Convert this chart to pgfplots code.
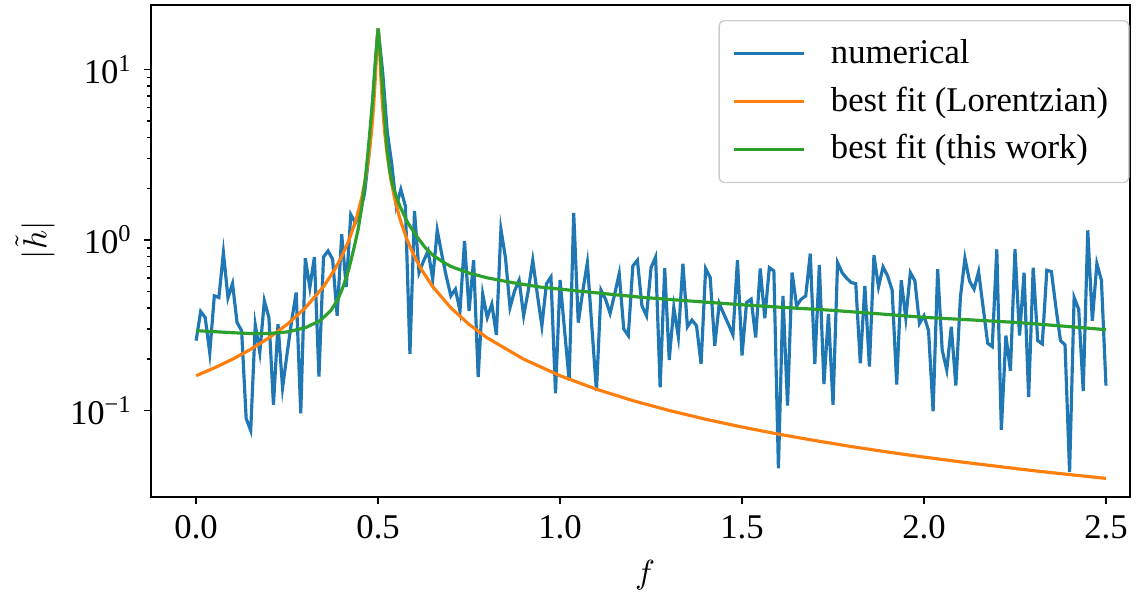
\documentclass[border=0pt]{standalone}
\usepackage{fontspec}
\setmainfont{Liberation Serif}
\usepackage{pgfplots}
\pgfplotsset{compat=1.18}
\definecolor{tabblue}{HTML}{1F77B4}
\definecolor{taborange}{HTML}{FF7F0E}
\definecolor{tabgreen}{HTML}{2CA02C}
\begin{document}
\begin{tikzpicture}[font=\fontsize{10.4}{12.5}\selectfont]
\begin{axis}[
  scale only axis, width=293.7pt, height=147.6pt,
  xmin=-0.124, xmax=2.566,
  ymode=log, ymin=0.0311, ymax=23.9,
  xtick={0,0.5,1,1.5,2,2.5},
  xticklabels={0.0,0.5,1.0,1.5,2.0,2.5},
  ytick={0.1,1,10},
  yticklabels={10\textsuperscript{−1},10\textsuperscript{0},10\textsuperscript{1}},
  tick pos=left, tick align=outside,
  major tick length=2.1pt, minor tick length=1.2pt,
  every tick/.style={black, line width=0.45pt},
  axis line style={line width=0.45pt},
  xlabel={$f$}, ylabel={$|\tilde{h}|$},
  xlabel style={at={(axis description cs:0.5046,-0.1585)}, anchor=center},
  ylabel style={at={(axis description cs:-0.1185,0.522)}, anchor=center},
  clip=true,
  legend cell align=left,
  legend image code/.code={\draw[#1] (0pt,0pt) -- (21pt,0pt); \path (26.4pt,0pt);},
  legend style={draw=black!20, rounded corners=1.5pt, fill=white, fill opacity=0.8, text opacity=1,
    at={(axis description cs:0.9995,0.9695)}, anchor=north east,
    inner xsep=4pt, inner ysep=3.4pt, row sep=1.1pt,
    nodes={inner sep=2.2pt}},
]
\addplot[tabblue, line width=0.95pt] table {
0.0000 0.257
0.0125 0.381
0.0250 0.351
0.0375 0.218
0.0500 0.471
0.0625 0.460
0.0750 0.843
0.0875 0.458
0.1000 0.555
0.1125 0.328
0.1250 0.294
0.1375 0.0898
0.1500 0.0764
0.1625 0.318
0.1750 0.219
0.1875 0.440
0.2000 0.351
0.2125 0.108
0.2250 0.321
0.2375 0.136
0.2500 0.216
0.2625 0.336
0.2750 0.492
0.2875 0.0964
0.3000 0.782
0.3125 0.526
0.3250 0.795
0.3375 0.158
0.3500 0.795
0.3625 0.863
0.3750 0.771
0.3875 0.360
0.4000 1.08
0.4125 0.531
0.4250 1.41
0.4375 1.26
0.4500 1.44
0.4625 1.86
0.4750 3.18
0.4875 7.8
0.5000 17.4
0.5125 9.7
0.5250 4.34
0.5375 2.8
0.5500 1.58
0.5625 1.98
0.5750 1.58
0.5875 0.215
0.6000 1.48
0.6125 0.644
0.6250 0.754
0.6375 0.862
0.6500 0.589
0.6625 1.14
0.6750 0.825
0.6875 0.61
0.7000 0.47
0.7125 0.515
0.7250 0.384
0.7375 0.987
0.7500 0.384
0.7625 0.761
0.7750 0.157
0.7875 0.481
0.8000 0.351
0.8125 0.421
0.8250 0.278
0.8375 1.155
0.8500 0.788
0.8625 0.402
0.8750 0.503
0.8875 0.581
0.9000 0.360
0.9125 0.503
0.9250 0.761
0.9375 0.481
0.9500 0.314
0.9625 0.553
0.9750 0.607
0.9875 0.126
1.0000 0.583
1.0125 0.294
1.0250 0.150
1.0375 1.44
1.0500 0.328
1.0625 0.503
1.0750 0.737
1.0875 0.307
1.1000 0.130
1.1125 0.508
1.1250 0.450
1.1375 0.371
1.1500 0.481
1.1625 0.635
1.1750 0.301
1.1875 0.275
1.2000 0.705
1.2125 0.761
1.2250 0.411
1.2375 0.360
1.2500 0.689
1.2625 0.795
1.2750 0.137
1.2875 0.683
1.3000 0.198
1.3125 0.402
1.3250 0.271
1.3375 0.727
1.3500 0.310
1.3625 0.339
1.3750 0.314
1.3875 0.1875
1.4000 0.680
1.4125 0.602
1.4250 0.240
1.4375 0.424
1.4500 0.368
1.4625 0.321
1.4750 0.278
1.4875 0.761
1.5000 0.21
1.5125 0.430
1.5250 0.450
1.5375 0.268
1.5500 0.680
1.5625 0.348
1.5750 0.689
1.5875 0.659
1.6000 0.0458
1.6125 0.47
1.6250 0.107
1.6375 0.644
1.6500 0.411
1.6625 0.450
1.6750 0.47
1.6875 0.832
1.7000 0.1875
1.7125 0.714
1.7250 0.143
1.7375 0.368
1.7500 0.108
1.7625 0.737
1.7750 0.644
1.7875 0.597
1.8000 0.563
1.8125 0.555
1.8250 0.189
1.8375 0.538
1.8500 0.181
1.8625 0.817
1.8750 0.531
1.8875 0.695
1.9000 0.616
1.9125 0.508
1.9250 0.142
1.9375 0.581
1.9500 0.348
1.9625 0.644
1.9750 0.576
1.9875 0.324
2.0000 0.360
2.0125 0.294
2.0250 0.099
2.0375 0.674
2.0500 0.226
2.0625 0.173
2.0750 0.310
2.0875 0.140
2.1000 0.46
2.1125 0.782
2.1250 0.576
2.1375 0.515
2.1500 0.653
2.1625 0.402
2.1750 0.248
2.1875 0.237
2.2000 0.882
2.2125 0.077
2.2250 0.275
2.2375 0.171
2.2500 0.882
2.2625 0.275
2.2750 0.644
2.2875 0.120
2.3000 0.689
2.3125 0.257
2.3250 0.246
2.3375 0.665
2.3500 0.653
2.3625 0.402
2.3750 0.257
2.3875 0.243
2.4000 0.0436
2.4125 0.46
2.4250 0.393
2.4375 0.130
2.4500 1.14
2.4625 0.336
2.4750 0.727
2.4875 0.581
2.5000 0.140
};
\addlegendentry{numerical}
\addplot[taborange, line width=0.95pt] table {
0.000 0.160
0.050 0.1778
0.100 0.200
0.150 0.2286
0.200 0.2667
0.250 0.320
0.300 0.400
0.350 0.5333
0.380 0.6667
0.400 0.800
0.420 0.998
0.440 1.329
0.455 1.769
0.465 2.266
0.475 3.147
0.482 4.306
0.488 6.224
0.492 8.667
0.495 11.77
0.4975 15.27
0.500 17.39
0.5025 15.27
0.505 11.77
0.508 8.667
0.512 6.224
0.518 4.306
0.525 3.147
0.535 2.266
0.545 1.769
0.560 1.329
0.580 0.998
0.600 0.800
0.620 0.6667
0.650 0.5333
0.700 0.400
0.750 0.320
0.800 0.2667
0.900 0.200
1.000 0.160
1.100 0.1333
1.200 0.1143
1.300 0.100
1.400 0.0889
1.500 0.080
1.600 0.0727
1.700 0.0667
1.800 0.0615
1.900 0.0571
2.000 0.0533
2.100 0.0500
2.200 0.0471
2.300 0.0444
2.400 0.0421
2.500 0.0400
};
\addlegendentry{best fit (Lorentzian)}
\addplot[tabgreen, line width=0.95pt] table {
0.000 0.294
0.050 0.290
0.100 0.286
0.150 0.283
0.200 0.283
0.250 0.289
0.300 0.306
0.340 0.336
0.370 0.385
0.390 0.45
0.405 0.54
0.420 0.68
0.435 0.92
0.445 1.15
0.455 1.55
0.465 2.3
0.473 3.4
0.480 5.0
0.486 7.0
0.492 10.8
0.496 14.0
0.500 17.4
0.504 14.0
0.508 10.8
0.512 8.0
0.516 6.0
0.524 3.5
0.532 2.55
0.540 2.1
0.550 1.8
0.560 1.58
0.580 1.28
0.606 1.05
0.630 0.90
0.652 0.81
0.680 0.74
0.700 0.70
0.750 0.64
0.800 0.60
0.870 0.562
0.950 0.528
1.000 0.515
1.100 0.490
1.220 0.462
1.350 0.440
1.480 0.420
1.600 0.404
1.740 0.388
1.870 0.370
2.000 0.352
2.130 0.340
2.260 0.328
2.380 0.313
2.500 0.298
};
\addlegendentry{best fit (this work)}
\coordinate (bl) at (rel axis cs:0,0);
\coordinate (tr) at (rel axis cs:1,1);
\end{axis}
\pgfresetboundingbox
\path ([shift={(-45.3pt,-29.1pt)}]bl) rectangle ([shift={(5.1pt,1.5pt)}]tr);
\end{tikzpicture}
\end{document}
